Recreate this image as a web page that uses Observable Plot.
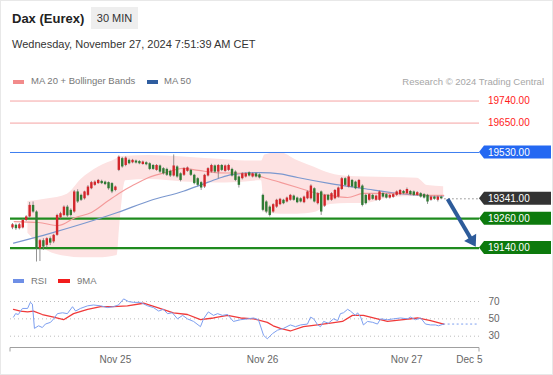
<!DOCTYPE html>
<html><head><meta charset="utf-8">
<script src="https://cdn.jsdelivr.net/npm/d3@7"></script>
<script src="https://cdn.jsdelivr.net/npm/@observablehq/plot@0.6"></script>
<style>
html,body{margin:0;padding:0;background:#fff;}
#wrap{position:relative;width:553px;height:375px;overflow:hidden;font-family:"Liberation Sans",Arial,sans-serif;background:#fff;}
.abs{position:absolute;white-space:nowrap;line-height:1;z-index:2;}
.sw{position:absolute;z-index:2;}
#main,#rsi{position:absolute;left:0;z-index:1;}
#main{top:88px;} #rsi{top:270px;}
#frame{position:absolute;left:0;top:0;width:551px;height:373px;border:1px solid #e8e8e8;z-index:3;pointer-events:none;}
</style></head><body><div id="wrap">
<div class="abs" style="left:12px;top:12px;font-size:13px;font-weight:bold;color:#222;">Dax (Eurex)</div>
<div class="abs" style="left:91px;top:7px;width:47px;height:22px;background:#eeeeee;font-size:11px;line-height:22px;text-align:center;color:#333;">30 MIN</div>
<div class="abs" style="left:12px;top:39px;font-size:11px;color:#333;">Wednesday, November 27, 2024 7:51:39 AM CET</div>
<div class="sw" style="left:13px;top:80px;width:11px;height:4px;background:#f28b8b;"></div>
<div class="abs" style="left:31px;top:76px;font-size:9.5px;color:#777;">MA 20 + Bollinger Bands</div>
<div class="sw" style="left:147px;top:80px;width:11px;height:4px;background:#2f5d9f;"></div>
<div class="abs" style="left:164px;top:76px;font-size:9.5px;color:#777;">MA 50</div>
<div class="abs" style="right:9px;top:77px;font-size:9.5px;color:#a6a6a6;">Research © 2024 Trading Central</div>
<div class="sw" style="left:13px;top:279px;width:11px;height:4px;background:#6e8fe6;"></div>
<div class="abs" style="left:31px;top:276px;font-size:9.5px;color:#777;">RSI</div>
<div class="sw" style="left:58px;top:279px;width:12px;height:4px;background:#f21d1d;"></div>
<div class="abs" style="left:77px;top:276px;font-size:9.5px;color:#777;">9MA</div>
<div id="main"></div>
<div id="rsi"></div>
<div id="frame"></div>
</div>
<script>
// ---- data ----
// candles: [open, high, low, close], one per 30-min bar (index = bar number)
const candles = [
[19222,19240,19215,19235],[19233,19238,19212,19219],[19219,19240,19214,19235],[19222,19258,19218,19253],
[19253,19272,19248,19267],[19267,19326,19262,19314],[19314,19328,19282,19287],[19287,19292,19083,19137],
[19137,19175,19085,19170],[19170,19178,19130,19144],[19151,19182,19140,19178],[19178,19185,19150,19160],
[19165,19196,19158,19192],[19192,19278,19188,19273],[19263,19286,19258,19280],[19273,19312,19268,19307],
[19307,19314,19265,19271],[19294,19300,19267,19273],[19287,19375,19282,19369],[19369,19378,19322,19328],
[19355,19360,19330,19335],[19341,19372,19336,19369],[19355,19395,19350,19389],[19382,19412,19378,19407],
[19396,19414,19392,19409],[19403,19420,19400,19416],[19412,19417,19399,19403],[19409,19413,19395,19399],
[19407,19410,19376,19382],[19403,19407,19362,19369],[19375,19393,19370,19389],
[19457,19516,19452,19511],[19505,19510,19466,19471],[19477,19512,19472,19507],[19498,19503,19480,19484],
[19488,19502,19484,19498],[19495,19499,19483,19487],[19493,19497,19480,19484],[19481,19495,19478,19491],
[19488,19492,19476,19480],[19484,19488,19456,19461],[19477,19481,19457,19461],[19457,19481,19453,19477],
[19475,19479,19445,19450],[19464,19468,19438,19443],[19461,19466,19432,19437],[19453,19458,19428,19434],
[19434,19520,19430,19475],[19471,19476,19425,19430],[19443,19447,19410,19416],[19437,19468,19432,19464],
[19453,19471,19449,19467],[19457,19461,19432,19437],[19437,19441,19398,19403],[19423,19427,19390,19396],
[19407,19411,19375,19385],[19389,19441,19383,19437],[19434,19468,19430,19464],[19450,19482,19446,19477],
[19475,19479,19445,19450],[19450,19481,19423,19477],[19477,19481,19452,19457],[19453,19479,19449,19475],
[19457,19482,19452,19477],[19461,19466,19430,19434],[19450,19455,19411,19416],[19430,19434,19385,19396],
[19423,19447,19418,19443],[19430,19447,19426,19443],[19447,19451,19430,19434],[19430,19447,19426,19443],
[19443,19447,19426,19430],[19439,19443,19422,19426],
[19355,19360,19288,19294],[19328,19333,19280,19287],[19307,19312,19267,19273],[19287,19321,19282,19317],
[19307,19339,19302,19335],[19317,19343,19313,19339],[19335,19339,19317,19321],[19328,19348,19324,19344],
[19335,19359,19331,19355],[19352,19356,19331,19335],[19344,19348,19321,19325],[19341,19345,19324,19328],
[19325,19352,19321,19348],[19341,19373,19337,19369],[19341,19398,19336,19393],[19382,19386,19324,19328],
[19321,19366,19316,19362],[19369,19373,19273,19287],[19311,19359,19306,19355],[19355,19359,19331,19335],
[19335,19366,19331,19362],[19341,19379,19337,19375],[19348,19389,19344,19385],[19379,19428,19375,19423],
[19423,19427,19391,19396],[19389,19437,19385,19430],[19416,19420,19385,19389],[19409,19413,19378,19382],
[19385,19420,19381,19416],[19393,19398,19308,19314],[19355,19359,19316,19321],[19335,19362,19331,19358],
[19355,19359,19335,19339],[19335,19356,19331,19352],[19335,19373,19331,19369],[19362,19366,19344,19348],
[19358,19362,19340,19344],[19344,19359,19340,19355],[19347,19362,19343,19358],[19355,19373,19351,19369],
[19358,19379,19354,19375],[19371,19375,19358,19362],
[19362,19385,19358,19379],[19371,19375,19354,19358],[19369,19373,19351,19355],[19355,19370,19351,19366],
[19362,19366,19344,19348],[19358,19362,19340,19344],[19355,19359,19318,19328],[19335,19352,19331,19348],
[19348,19352,19335,19339],[19335,19352,19328,19348],[19348,19352,19337,19341]
];
// moving averages [bar, price]
const ma20 = [[0.5,19248],[7.6,19244],[13.4,19232],[18.4,19265],[23,19285],[28,19334],[31.5,19367],[35,19395],
[39.7,19428],[44.6,19448],[49.6,19465],[54.2,19457],[59.2,19448],[68.5,19444],[73.2,19428],[78.1,19408],
[83.1,19387],[87.8,19367],[92.7,19355],[97.7,19346],[102.3,19363],[112.2,19363],[121.9,19355],[125.7,19355]];
const ma50 = [[0.3,19160],[11,19200],[20.7,19240],[30.6,19285],[40.2,19334],[49.8,19372],[55,19398],[60,19424],
[64,19440],[72.3,19448],[78,19443],[83.1,19428],[92.7,19403],[102.3,19383],[112.2,19363],[119.8,19355],[125.7,19353]];
// Bollinger band [bar, upper, lower]
const band = [[4.5,19330,19200],[10,19340,19130],[16,19360,19105],[20,19420,19100],[25,19470,19100],[30.5,19505,19110],
[31.3,19512,19235],[33,19515,19415],[40,19518,19420],[50,19512,19410],[60,19502,19405],[68,19495,19410],[72.6,19495,19415],
[73.6,19520,19285],[78,19530,19278],[83,19497,19278],[88,19470,19285],[92.7,19444,19318],[98,19432,19322],[103,19430,19322],
[110,19428,19345],[118,19425,19350],[121,19395,19345],[125.7,19390,19340]];
// key levels
const levelValues = [19740, 19650, 19530, 19341, 19260, 19140];
const levelKinds = ["resistance", "resistance", "pivot", "last", "support", "support"];
// forecast arrow [fromBar, fromPrice, toBar, toPrice]
const forecast = [127, 19338, 135.2, 19143];
// RSI and its 9-period MA [bar, value]
const rsi = [[0.3,52],[0.9,56],[1.7,55],[2.9,62],[4.4,62],[5.2,69],[5.8,67],[6.4,39],[7.6,42],[8.7,40],[9.6,44],[11.1,46],
[12,50],[13.1,56],[14.6,57],[16,56],[17.5,64],[18.4,59],[19.8,62],[21.9,65],[23.6,66],[25.7,65],[27.7,63],[29.4,64],[30.9,66],
[32.4,73],[33.8,70],[35.3,69],[37.3,69],[39.4,65],[41.1,63],[42.6,59],[44,61],[45.2,56],[46.6,57],[48.1,50],[49.6,54],[51,50],
[52.8,47],[54.8,41],[55.7,50],[57.1,58],[58.6,54],[59.8,56],[61.2,54],[62.7,55],[64.4,47],[66.5,49],[68.5,50],[70.3,51],[71.7,49],
[73.2,31],[74.3,27],[75.8,33],[77.3,37],[79,39],[81,43],[82.5,41],[84,43],[86,44],[86.9,52],[87.8,50],[89,43],[89.8,41],[90.7,47],
[92.1,45],[93.6,50],[94.8,48],[95.6,56],[96.5,57],[97.7,61],[98.5,59],[100,54],[100.6,57],[101.5,52],[102.3,43],[103.5,47],[105,46],
[106.4,44],[107.3,50],[109.3,49],[111.1,50],[113.1,51],[115.2,50],[116,52],[117.5,49],[119,51],[120.4,44],[121.9,43],[123.3,43],
[124.2,42],[125.7,44]];
const ma9 = [[0.3,61],[2.3,59],[4.4,58],[6.1,59],[8.7,55],[12,52],[14.9,49],[17.8,56],[21.9,61],[25.7,64],[29.4,64],[33.5,65],
[38.2,68],[42.3,63],[46.9,57],[51,55],[54.8,49],[58.6,51],[62.7,54],[66.5,51],[70.3,50],[74.3,46],[76,42],[78.1,39],[81,36],
[84.8,41],[88.9,43],[92.7,45],[96.2,47],[99.1,54],[102.3,54],[105.2,51],[109.3,47],[114,49],[118.1,51],[121.9,48],[125.7,44]];
const rsiLevels = [30, 50, 70];
const xTicks = [30, 72.9, 114.9, 133.2];
const xTickLabels = ["Nov 25", "Nov 26", "Nov 27", "Dec 5"];

// ---- chart ----
const FONT = "'Liberation Sans', Arial, sans-serif";
const xDomain = [-0.58, 136.15];
const UP = "#d3262b", DOWN = "#2f7a34";
const kindStyle = {
  resistance: {line: "#f5a3a3", w: 1, box: null, text: "#ff1a1a"},
  pivot: {line: "#3d7ef0", w: 1, box: "#2468f2", text: "#fff"},
  last: {line: null, w: 1, box: "#333333", text: "#fff"},
  support: {line: "#1f8b1f", w: 2.3, box: "#0d7a0d", text: "#fff"}
};
const lineLevels = levelValues.map((v, k) => ({v, s: kindStyle[levelKinds[k]]})).filter(d => d.s.line);
const lastIdx = candles.length - 1;
const lastPrice = levelValues[levelKinds.indexOf("last")];

function levelLabels(index, scales, values, dims) {
  const g = d3.create("svg:g").attr("font-family", FONT).attr("font-size", 10).attr("text-anchor", "start");
  const x0 = dims.width - dims.marginRight;
  const x1 = dims.width - 2;
  levelValues.forEach((v, k) => {
    const s = kindStyle[levelKinds[k]];
    const cy = scales.y(v);
    if (s.box) {
      g.append("polygon")
        .attr("points", `${x0},${cy} ${x0 + 5},${cy - 6.5} ${x1},${cy - 6.5} ${x1},${cy + 6.5} ${x0 + 5},${cy + 6.5}`)
        .attr("fill", s.box);
    }
    g.append("text").attr("x", x0 + 9).attr("y", cy).attr("dy", "0.36em")
      .attr("text-anchor", "start").attr("fill", s.text).text(v.toFixed(2));
  });
  return g.node();
}
function arrowMark(index, scales) {
  const g = d3.create("svg:g");
  const sx = scales.x(forecast[0]), sy = scales.y(forecast[1]);
  const tx = scales.x(forecast[2]), ty = scales.y(forecast[3]);
  const dx = tx - sx, dy = ty - sy, len = Math.hypot(dx, dy);
  const ux = dx / len, uy = dy / len, nx = -uy, ny = ux;
  const L = 11, W = 7;
  const bx = tx - ux * L, by = ty - uy * L;
  g.append("line").attr("x1", sx).attr("y1", sy).attr("x2", bx + ux).attr("y2", by + uy)
    .attr("stroke", "#2d5b9a").attr("stroke-width", 4);
  g.append("polygon").attr("points", `${tx},${ty} ${bx + nx * W},${by + ny * W} ${bx - nx * W},${by - ny * W}`)
    .attr("fill", "#2d5b9a");
  return g.node();
}

const mainPlot = Plot.plot({
  width: 553, height: 182,
  marginLeft: 10, marginRight: 74, marginTop: 0, marginBottom: 0,
  style: {fontFamily: FONT, background: "transparent"},
  x: {domain: xDomain, range: [10, 479], axis: null},
  y: {domain: [19056.5, 19791.2], range: [180, 0], axis: null},
  marks: [
    Plot.areaY(band, {x: d => d[0], y1: d => d[2], y2: d => d[1], fill: "#fde2e2", curve: "monotone-x"}),
    Plot.ruleY(lineLevels, {y: d => d.v, stroke: d => d.s.line, strokeWidth: d => d.s.w}),
    Plot.ruleY([lastPrice], {y: d => d, x1: () => lastIdx + 1, x2: () => xDomain[1], stroke: "#8a8a8a", strokeDasharray: "1.5,2.5"}),
    Plot.line(ma50, {x: d => d[0], y: d => d[1], stroke: "#7b98cf", strokeWidth: 1.2, curve: "monotone-x"}),
    Plot.line(ma20, {x: d => d[0], y: d => d[1], stroke: "#f49a9a", strokeWidth: 1.1, curve: "monotone-x"}),
    Plot.ruleX(candles, {x: (d, i) => i, y1: d => d[2], y2: d => d[1], stroke: "#777", strokeWidth: 0.8}),
    Plot.ruleX(candles, {x: (d, i) => i, y1: d => d[0], y2: d => d[3], stroke: d => d[3] >= d[0] ? UP : DOWN, strokeWidth: 2.4}),
    arrowMark,
    levelLabels
  ]
});
document.getElementById("main").appendChild(mainPlot);

function axisLine(index, scales, values, dims) {
  const g = d3.create("svg:g").attr("stroke", "#a0a0a0").attr("fill", "none");
  const y = dims.height - dims.marginBottom + 0.5;
  const a = dims.marginLeft, b = dims.width - dims.marginRight;
  g.append("path").attr("d", `M${a},${y + 4}V${y}H${b}V${y + 4}`);
  return g.node();
}
const lastR = rsi[rsi.length - 1];
const rsiPlot = Plot.plot({
  width: 553, height: 105,
  marginLeft: 10, marginRight: 74, marginTop: 0, marginBottom: 28,
  style: {fontFamily: FONT, fontSize: "10px", color: "#666", background: "transparent"},
  x: {domain: xDomain, range: [10, 479]},
  y: {domain: [30, 70], range: [65.7, 31]},
  marks: [
    Plot.ruleY(rsiLevels, {stroke: "#bdbdbd", strokeDasharray: "1,3"}),
    Plot.axisY({anchor: "right", ticks: rsiLevels, tickSize: 0, tickPadding: 9, label: null}),
    Plot.axisX({ticks: xTicks, tickFormat: (d, i) => xTickLabels[i], tickSize: 0, tickPadding: 8, label: null}),
    axisLine,
    Plot.ruleY([lastR], {y: d => d[1], x1: d => d[0], x2: () => xDomain[1], stroke: "#7d9ff0", strokeDasharray: "2,2.5"}),
    Plot.line(ma9, {x: d => d[0], y: d => d[1], stroke: "#f03a3a", strokeWidth: 1.3}),
    Plot.line(rsi, {x: d => d[0], y: d => d[1], stroke: "#7d9ff0", strokeWidth: 1})
  ]
});
document.getElementById("rsi").appendChild(rsiPlot);
</script>
</body></html>
